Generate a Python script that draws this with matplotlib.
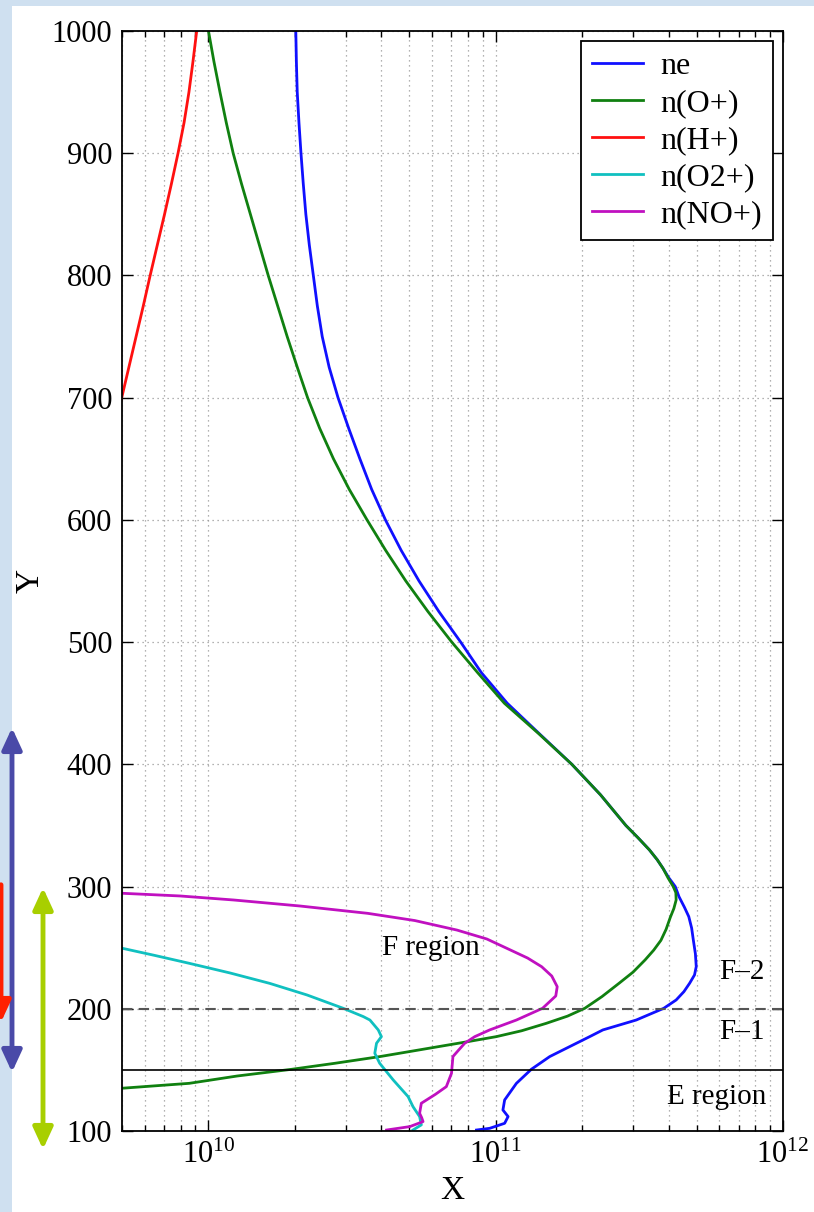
import numpy as np
import matplotlib
matplotlib.use("Agg")
import matplotlib.pyplot as plt
from matplotlib.patches import Rectangle
from matplotlib.ticker import LogLocator, NullFormatter, MultipleLocator

plt.rcParams['font.family'] = ['Liberation Serif', 'DejaVu Serif']
plt.rcParams['mathtext.fontset'] = 'custom'
plt.rcParams['mathtext.rm'] = 'Liberation Serif'
plt.rcParams['mathtext.it'] = 'Liberation Serif:italic'

# altitude (km) and log10 of density
ne_alt = [100.8, 102.2, 106.3, 111.8, 117.2, 125.4, 139, 150.5, 160.9, 169, 177.2,
          182.7, 190.8, 200.4, 207.2, 214, 220.9, 227.7, 234.5, 245, 256, 266,
          275.4, 283, 291.7, 300, 307, 315, 322, 330, 340, 350, 375, 400, 425, 450,
          475, 500, 525, 550, 575, 600, 625, 650, 675, 700, 725, 750, 775, 800,
          825, 850, 875, 900, 925, 950, 975, 1000]
ne_log = [10.933, 10.979, 11.031, 11.043, 11.025, 11.031, 11.072, 11.124, 11.188,
          11.257, 11.327, 11.373, 11.489, 11.585, 11.628, 11.655, 11.675, 11.692,
          11.698, 11.695, 11.688, 11.682, 11.672, 11.657, 11.638, 11.625, 11.603,
          11.582, 11.562, 11.535, 11.495, 11.453, 11.365, 11.265, 11.152, 11.04,
          10.950, 10.878, 10.802, 10.733, 10.671, 10.616, 10.568, 10.527, 10.488,
          10.451, 10.420, 10.396, 10.379, 10.365, 10.351, 10.339, 10.330, 10.322,
          10.315, 10.309, 10.306, 10.304]

op_alt = [133, 135, 139, 145, 150.5, 155.4, 160.9, 165, 169, 173, 177.2, 182,
          188.1, 194, 200.4, 210, 221, 230, 240, 248, 256, 265, 275, 282, 289, 295,
          300, 307, 315, 322, 330, 340, 350, 375, 400, 425, 450, 475, 500, 525, 550,
          575, 600, 625, 650, 675, 700, 725, 750, 775, 800, 825, 850, 875, 900, 925,
          950, 975, 1000]
op_log = [9.59, 9.70, 9.933, 10.10, 10.29, 10.44, 10.597, 10.70, 10.80, 10.90,
          11.002, 11.09, 11.176, 11.25, 11.31, 11.37, 11.43, 11.478, 11.52, 11.55,
          11.575, 11.593, 11.608, 11.62, 11.628, 11.627, 11.618, 11.60, 11.582, 11.562,
          11.535, 11.495, 11.453, 11.365, 11.265, 11.15, 11.03, 10.937, 10.847,
          10.764, 10.687, 10.617, 10.552, 10.49, 10.435, 10.387, 10.345, 10.309,
          10.274, 10.241, 10.208, 10.177, 10.146, 10.115, 10.086, 10.062, 10.040,
          10.019, 10.0]

hp_alt = [690, 700, 725, 750, 775, 800, 825, 850, 875, 900, 925, 950, 975, 1000]
hp_log = [9.688, 9.698, 9.723, 9.748, 9.773, 9.797, 9.822, 9.847, 9.871, 9.894,
          9.915, 9.932, 9.946, 9.959]

o2p_alt = [100.8, 105, 111.8, 119.9, 128.1, 141.8, 155.4, 163.6, 171.8, 177.2,
           182.7, 190.8, 193.6, 200.4, 211.3, 220.8, 229.3, 237.2, 243.6, 249.5, 252]
o2p_log = [10.712, 10.741, 10.735, 10.712, 10.695, 10.643, 10.596, 10.579, 10.585,
           10.602, 10.591, 10.562, 10.539, 10.469, 10.343, 10.213, 10.075, 9.933,
           9.814, 9.70, 9.65]

nop_alt = [100.8, 103.6, 107.7, 111, 114.5, 122.7, 130, 136.3, 147.2, 160.9, 166,
           171.8, 177.2, 182.7, 190.8, 200.4, 210.5, 218.1, 226.8, 234.4, 241.5,
           248.1, 257.1, 264.4, 272.2, 278.1, 284.1, 289, 292.3, 294.5, 296]
nop_log = [10.620, 10.701, 10.747, 10.742, 10.735, 10.741, 10.79, 10.828, 10.846,
           10.851, 10.87, 10.892, 10.927, 10.979, 11.072, 11.163, 11.209, 11.214,
           11.195, 11.160, 11.111, 11.051, 10.969, 10.865, 10.718, 10.554, 10.318,
           10.088, 9.901, 9.70, 9.62]

series = [("ne", ne_alt, ne_log, "#1010ff"),
          ("n(O+)", op_alt, op_log, "#108010"),
          ("n(H+)", hp_alt, hp_log, "#ff1010"),
          ("n(O2+)", o2p_alt, o2p_log, "#10c0c0"),
          ("n(NO+)", nop_alt, nop_log, "#c010c0")]

fig = plt.figure(figsize=(8.14, 12.12), dpi=100, facecolor="#cfe0f0")
fig.add_artist(Rectangle((12 / 814, 0), 1, 1206 / 1212, transform=fig.transFigure,
                         facecolor="white", edgecolor="none", zorder=-5))
ax = fig.add_axes([122 / 814, 81 / 1212, 661 / 814, 1100 / 1212])

for name, alt, lg, col in series:
    ax.plot(10 ** np.array(lg), alt, color=col, lw=2, label=name)

ax.axhline(200, color="#555555", lw=1.5, linestyle=(0, (5, 3)))
ax.axhline(150, color="black", lw=1.2)

ax.set_xscale("log")
ax.set_xlim(5e9, 1e12)
ax.set_ylim(100, 1000)
ax.yaxis.set_major_locator(MultipleLocator(100))
ax.xaxis.set_major_locator(LogLocator(base=10))
ax.xaxis.set_minor_locator(LogLocator(base=10, subs=np.arange(2, 10)))
ax.xaxis.set_minor_formatter(NullFormatter())

ax.grid(True, which="both", axis="x", linestyle=(0, (1, 3)), color="#999999", lw=0.9)
ax.grid(True, which="major", axis="y", linestyle=(0, (1, 3)), color="#999999", lw=0.9)

ax.tick_params(which="both", direction="in", top=True, right=True, width=1)
ax.tick_params(which="major", length=8, labelsize=22, pad=7)
ax.tick_params(which="minor", length=4)
for s in ax.spines.values():
    s.set_linewidth(1.3)

ax.set_xlabel("X", fontsize=24, labelpad=4)
ax.set_ylabel("Y", fontsize=24, labelpad=4)

ax.text(5.96e10, 250, "F region", fontsize=21, ha="center", va="center")
ax.text(7.2e11, 230, "F\u20132", fontsize=21, ha="center", va="center")
ax.text(7.2e11, 181, "F\u20131", fontsize=21, ha="center", va="center")
ax.text(5.9e11, 128, "E region", fontsize=21, ha="center", va="center")

leg = ax.legend(loc="upper right", fontsize=23, fancybox=False, framealpha=1,
                edgecolor="black", handlelength=1.6, handletextpad=0.55,
                labelspacing=0.24, borderaxespad=0.3, borderpad=0.35)
leg.get_frame().set_linewidth(1.3)

# arrows on the left margin
head = "head_width=0.6,head_length=1.3"
fig.add_artist(plt.Annotation("", xy=(12, 137), xytext=(12, 487),
                              xycoords="figure pixels", textcoords="figure pixels",
                              arrowprops=dict(arrowstyle="<|-|>," + head,
                                              color="#4a4aa8", lw=3.5)))
fig.add_artist(plt.Annotation("", xy=(43, 60), xytext=(43, 327),
                              xycoords="figure pixels", textcoords="figure pixels",
                              arrowprops=dict(arrowstyle="<|-|>," + head,
                                              color="#a8cf00", lw=3.5)))
fig.add_artist(plt.Annotation("", xy=(1, 187), xytext=(1, 330),
                              xycoords="figure pixels", textcoords="figure pixels",
                              arrowprops=dict(arrowstyle="-|>," + head,
                                              color="#ff2000", lw=3.5)))

fig.savefig("out.png", dpi=100, facecolor=fig.get_facecolor())
